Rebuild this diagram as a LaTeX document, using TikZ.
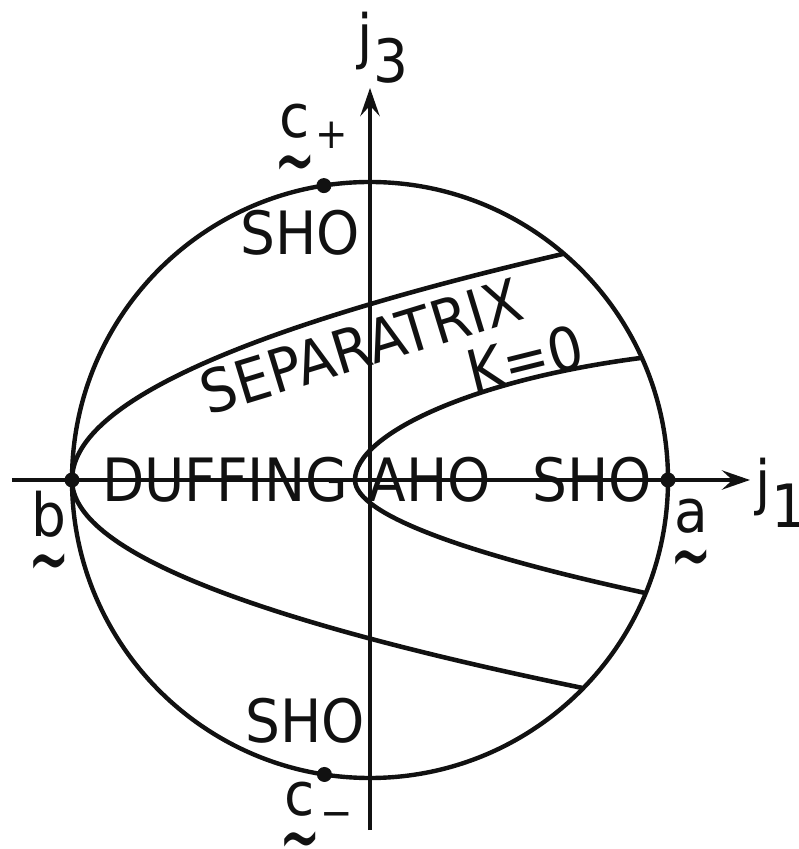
\documentclass[tikz,border=0pt]{standalone}
\usepackage{fontspec}
\setmainfont{DejaVu Sans}[FakeStretch=0.92]
\definecolor{ink}{HTML}{111111}
\usetikzlibrary{arrows.meta}
\newcommand\tvec[1]{\begin{tabular}[t]{@{}c@{}}#1\\[-10pt]%
  \scalebox{0.9}[1.5]{\textasciitilde}\end{tabular}}
\tikzset{
  rim/.style={draw=ink,line width=2.5pt},
  curve/.style={draw=ink,line width=2.6pt},
  axis/.style={draw=ink,line width=2pt,
               -{Stealth[length=16pt,width=11pt,inset=6pt]}},
  pt/.style={circle,fill=ink,inner sep=0pt,minimum size=0.3cm},
  lbl/.style={font=\fontsize{34}{40}\selectfont,text=ink,inner sep=0pt}
}

\begin{document}
\begin{tikzpicture}
  \useasboundingbox (-7.4,-7.38) rectangle (8.56,9.6);
  \draw[rim] (0,0) circle (5.96);
  \node[pt] (b)  at (180:5.96) {};
  \node[pt] (a)  at (0:5.96) {};
  \node[pt] (cp) at (98.9:5.96) {};
  \node[pt] (cm) at (261.2:5.96) {};
  \coordinate (sepU) at (49.4:5.96);
  \coordinate (sepL) at (-44.3:5.96);
  \coordinate (vtx)  at (-0.3,0);
  \coordinate (ahoU) at (24.2:5.96);
  \coordinate (ahoL) at (-22.3:5.96);
  \draw[curve] (b.center) .. controls (-5.96,1.5) and (-2.69,3.0) .. (sepU);
  \draw[curve] (b.center) .. controls (-5.96,-1.38) and (-2.56,-2.76) .. (sepL);
  \draw[curve] (vtx) .. controls (-0.3,0.9) and (2.0,2.0) .. (ahoU);
  \draw[curve] (vtx) .. controls (-0.3,-0.7) and (2.0,-1.5) .. (ahoL);
  \coordinate (xl) at (-7.16,0);
  \coordinate (xr) at (7.6,0);
  \coordinate (yl) at (0,-7.0);
  \coordinate (yr) at (0,7.84);
  \draw[axis] (xl) -- (xr);
  \draw[axis] (yl) -- (yr);
  \node[lbl] (lj1) at (8.22,-0.26) {j\raisebox{-14pt}{1}};
  \node[lbl] (lj3) at (0.26,8.64) {j\raisebox{-14pt}{3}};
  \node[lbl,anchor=base] (lb) at (-6.42,-1.14) {\tvec{b}};
  \node[lbl,anchor=base] (la) at (6.42,-1.06) {\tvec{a}};
  \node[lbl,anchor=base west] (lcp) at (-1.92,6.84)
    {\tvec{c}\raisebox{-6pt}{\fontsize{24}{24}\selectfont +}};
  \node[lbl,anchor=base west] (lcm) at (-1.82,-6.7)
    {\tvec{c}\raisebox{-7pt}{\fontsize{24}{24}\selectfont −}};
  \node[lbl] (shoT) at (-1.4,4.94) {SHO};
  \node[lbl] (shoB) at (-1.3,-4.82) {SHO};
  \node[lbl] (duff) at (-2.9,0) {DUFFING};
  \node[lbl] (aho)  at (1.2,0) {AHO};
  \node[lbl] (shoR) at (4.44,0) {SHO};
  \node[lbl,rotate=17] (sepx)  at (-0.18,2.68) {SEPARATRIX};
  \node[lbl,rotate=14] (kzero) at (3.1,2.42) {K=0};
\end{tikzpicture}
\end{document}
